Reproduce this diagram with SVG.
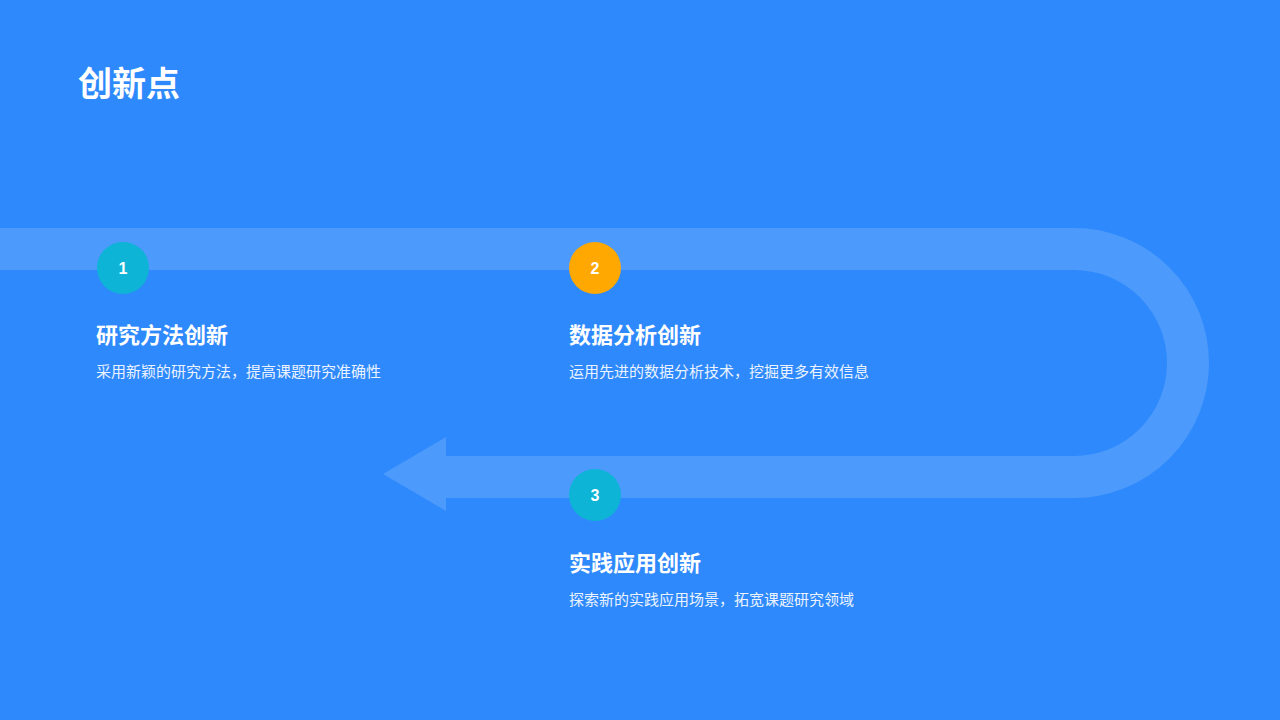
<svg xmlns="http://www.w3.org/2000/svg" width="1280" height="720" viewBox="0 0 1280 720">
<style>
.t{font-family:"Noto Sans CJK SC","Liberation Sans",sans-serif;fill:#fff}
.h{font-size:22px;font-weight:bold}
.d{font-size:15px;fill:#EAF3FF}
.n{font-family:"Liberation Sans",sans-serif;font-size:16px;font-weight:bold;fill:#fff;text-anchor:middle}
</style>
<rect width="1280" height="720" fill="#2E89FC"/>
<text class="t" x="78" y="96" font-size="34" font-weight="bold">创新点</text>
<g id="connectors">
<path d="M0 249 H1074 A114 114 0 0 1 1074 477 H440" fill="none" stroke="#4C9AFB" stroke-width="42"/>
<polygon points="383,474 446,437 446,511" fill="#4C9AFB"/>
</g>
<g id="node1">
<circle cx="123" cy="268" r="26" fill="#0DB4D6"/>
<text class="n" x="123" y="274">1</text>
<text class="t h" x="96" y="343">研究方法创新</text>
<text class="t d" x="96" y="377">采用新颖的研究方法，提高课题研究准确性</text>
</g>
<g id="node2">
<circle cx="595" cy="268" r="26" fill="#FFA802"/>
<text class="n" x="595" y="274">2</text>
<text class="t h" x="569" y="343">数据分析创新</text>
<text class="t d" x="569" y="377">运用先进的数据分析技术，挖掘更多有效信息</text>
</g>
<g id="node3">
<circle cx="595" cy="495" r="26" fill="#0DB4D6"/>
<text class="n" x="595" y="501">3</text>
<text class="t h" x="569" y="571">实践应用创新</text>
<text class="t d" x="569" y="605">探索新的实践应用场景，拓宽课题研究领域</text>
</g>
</svg>
